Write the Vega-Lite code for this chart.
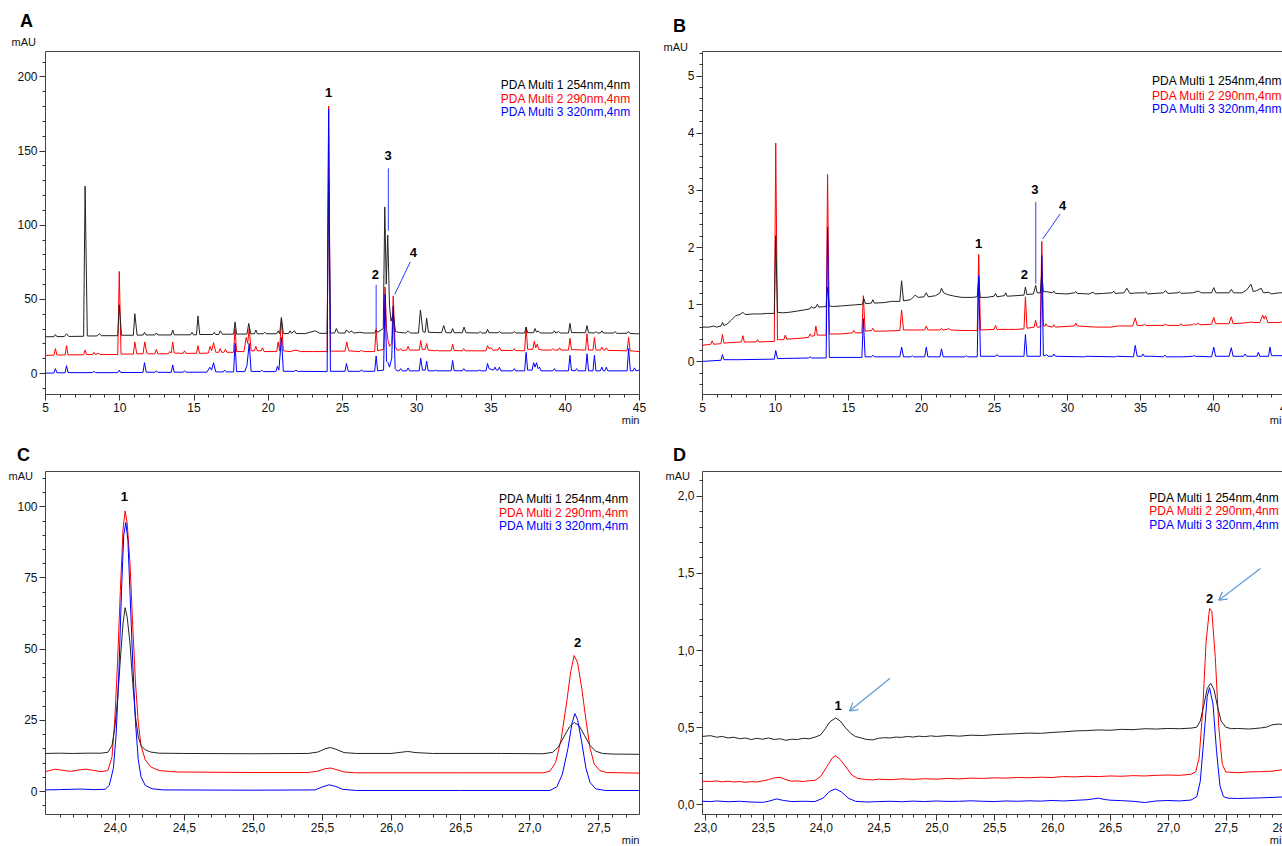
{
"$schema": "https://vega.github.io/schema/vega-lite/v6.json",
"padding": {"left": 7, "top": 12, "right": 0, "bottom": 0},
"config": {
 "font": "Liberation Sans",
 "view": {"stroke": "#444", "strokeWidth": 1},
 "axis": {"grid": false, "domain": false, "tickColor": "#333", "tickWidth": 1, "labelFontSize": 12, "labelColor": "#111", "labelPadding": 2, "labelOverlap": false, "labelFlush": false, "titleFontSize": 11, "titleFontWeight": "normal", "titleColor": "#111", "tickCount": 200},
 "title": {"fontSize": 18, "fontWeight": "bold", "anchor": "start", "frame": "group", "baseline": "alphabetic", "offset": 5, "color": "#000"}
},
"datasets": {
"A": [
{"s":"k","t":5.0,"v":24.5},{"s":"k","t":5.6,"v":24.5},{"s":"k","t":5.7,"v":26},{"s":"k","t":5.8,"v":24.6},{"s":"k","t":6.3,"v":24.6},{"s":"k","t":6.45,"v":26.5},{"s":"k","t":6.6,"v":24.7},{"s":"k","t":7.6,"v":24.8},{"s":"k","t":7.7,"v":126},{"s":"k","t":7.85,"v":25},{"s":"k","t":8.5,"v":25},{"s":"k","t":8.65,"v":26.5},{"s":"k","t":8.8,"v":25.2},{"s":"k","t":9.9,"v":25.2},{"s":"k","t":10.0,"v":46},{"s":"k","t":10.15,"v":25.5},{"s":"k","t":10.95,"v":25.5},{"s":"k","t":11.05,"v":40},{"s":"k","t":11.2,"v":25.6},{"s":"k","t":11.6,"v":25.6},{"s":"k","t":11.7,"v":27.5},{"s":"k","t":11.8,"v":25.7},{"s":"k","t":12.4,"v":25.7},{"s":"k","t":12.5,"v":27},{"s":"k","t":12.6,"v":25.7},{"s":"k","t":13.5,"v":25.7},{"s":"k","t":13.6,"v":29},{"s":"k","t":13.7,"v":25.8},{"s":"k","t":14.8,"v":25.8},{"s":"k","t":14.9,"v":27.5},{"s":"k","t":15.0,"v":25.8},{"s":"k","t":15.2,"v":25.8},{"s":"k","t":15.3,"v":38.5},{"s":"k","t":15.42,"v":26},{"s":"k","t":16.3,"v":26},{"s":"k","t":16.4,"v":27.5},{"s":"k","t":16.5,"v":26},{"s":"k","t":16.7,"v":26},{"s":"k","t":16.8,"v":28.5},{"s":"k","t":16.95,"v":26.2},{"s":"k","t":17.7,"v":26.2},{"s":"k","t":17.8,"v":34.5},{"s":"k","t":17.9,"v":26.3},{"s":"k","t":18.6,"v":26.3},{"s":"k","t":18.72,"v":33.5},{"s":"k","t":18.85,"v":26.5},{"s":"k","t":19.1,"v":26.5},{"s":"k","t":19.2,"v":29},{"s":"k","t":19.3,"v":26.5},{"s":"k","t":19.7,"v":26.5},{"s":"k","t":19.8,"v":27.5},{"s":"k","t":19.9,"v":26.5},{"s":"k","t":20.6,"v":26.5},{"s":"k","t":20.7,"v":28.5},{"s":"k","t":20.8,"v":26.5},{"s":"k","t":20.92,"v":37.5},{"s":"k","t":21.05,"v":26.6},{"s":"k","t":21.4,"v":26.6},{"s":"k","t":21.5,"v":28.5},{"s":"k","t":21.6,"v":26.8},{"s":"k","t":21.8,"v":28.5},{"s":"k","t":21.9,"v":26.7},{"s":"k","t":22.5,"v":26.6},{"s":"k","t":23.2,"v":28.5},{"s":"k","t":23.5,"v":26.8},{"s":"k","t":24.0,"v":26.8},{"s":"k","t":24.1,"v":130},{"s":"k","t":24.22,"v":27},{"s":"k","t":24.5,"v":27},{"s":"k","t":24.62,"v":30},{"s":"k","t":24.75,"v":27},{"s":"k","t":25.2,"v":27},{"s":"k","t":25.3,"v":29},{"s":"k","t":25.5,"v":27.2},{"s":"k","t":25.6,"v":28.5},{"s":"k","t":25.8,"v":27},{"s":"k","t":26.2,"v":27.5},{"s":"k","t":26.5,"v":27},{"s":"k","t":27.2,"v":27},{"s":"k","t":27.3,"v":29},{"s":"k","t":27.4,"v":27.5},{"s":"k","t":27.78,"v":30},{"s":"k","t":27.88,"v":112},{"s":"k","t":27.98,"v":60},{"s":"k","t":28.08,"v":93},{"s":"k","t":28.2,"v":45},{"s":"k","t":28.3,"v":35},{"s":"k","t":28.45,"v":40},{"s":"k","t":28.6,"v":28},{"s":"k","t":28.8,"v":27.5},{"s":"k","t":29.3,"v":27},{"s":"k","t":29.45,"v":28.5},{"s":"k","t":29.6,"v":27},{"s":"k","t":30.15,"v":27},{"s":"k","t":30.28,"v":42.5},{"s":"k","t":30.45,"v":28},{"s":"k","t":30.6,"v":27.5},{"s":"k","t":30.7,"v":37},{"s":"k","t":30.82,"v":27.5},{"s":"k","t":31.7,"v":27.2},{"s":"k","t":31.85,"v":32},{"s":"k","t":32.0,"v":27.2},{"s":"k","t":32.35,"v":27.2},{"s":"k","t":32.45,"v":30},{"s":"k","t":32.55,"v":27.2},{"s":"k","t":33.1,"v":27.2},{"s":"k","t":33.22,"v":31},{"s":"k","t":33.35,"v":27.2},{"s":"k","t":34.2,"v":27},{"s":"k","t":34.3,"v":28},{"s":"k","t":34.4,"v":27},{"s":"k","t":34.7,"v":27},{"s":"k","t":34.8,"v":29.5},{"s":"k","t":34.9,"v":27.2},{"s":"k","t":35.5,"v":27.2},{"s":"k","t":35.6,"v":28},{"s":"k","t":35.7,"v":27},{"s":"k","t":36.5,"v":27},{"s":"k","t":36.6,"v":28},{"s":"k","t":36.7,"v":27},{"s":"k","t":37.3,"v":27},{"s":"k","t":37.4,"v":31},{"s":"k","t":37.5,"v":27.2},{"s":"k","t":37.9,"v":27.2},{"s":"k","t":38.0,"v":30},{"s":"k","t":38.1,"v":27.5},{"s":"k","t":38.2,"v":28.5},{"s":"k","t":38.35,"v":27},{"s":"k","t":39.2,"v":27},{"s":"k","t":39.3,"v":28.5},{"s":"k","t":39.4,"v":27},{"s":"k","t":39.6,"v":28},{"s":"k","t":39.7,"v":27},{"s":"k","t":40.25,"v":27},{"s":"k","t":40.35,"v":33.5},{"s":"k","t":40.45,"v":27.3},{"s":"k","t":41.4,"v":27.2},{"s":"k","t":41.5,"v":32},{"s":"k","t":41.6,"v":27.2},{"s":"k","t":42.0,"v":27},{"s":"k","t":42.1,"v":28},{"s":"k","t":42.2,"v":27},{"s":"k","t":42.4,"v":27},{"s":"k","t":42.5,"v":28.5},{"s":"k","t":42.6,"v":27},{"s":"k","t":43.3,"v":27},{"s":"k","t":43.4,"v":28},{"s":"k","t":43.5,"v":26.8},{"s":"k","t":44.2,"v":26.8},{"s":"k","t":44.3,"v":28},{"s":"k","t":44.4,"v":26.7},{"s":"k","t":44.8,"v":26.5},{"s":"k","t":45.0,"v":26.5},
{"s":"r","t":5.0,"v":12},{"s":"r","t":5.6,"v":12},{"s":"r","t":5.7,"v":16.5},{"s":"r","t":5.8,"v":12.2},{"s":"r","t":6.35,"v":12.2},{"s":"r","t":6.45,"v":18.5},{"s":"r","t":6.55,"v":12.3},{"s":"r","t":7.6,"v":12.3},{"s":"r","t":7.7,"v":15.5},{"s":"r","t":7.8,"v":12.5},{"s":"r","t":8.2,"v":12.5},{"s":"r","t":8.3,"v":14},{"s":"r","t":8.4,"v":12.5},{"s":"r","t":8.6,"v":13.5},{"s":"r","t":8.7,"v":12.5},{"s":"r","t":9.9,"v":12.5},{"s":"r","t":10.0,"v":68.5},{"s":"r","t":10.12,"v":12.8},{"s":"r","t":10.95,"v":12.8},{"s":"r","t":11.05,"v":21},{"s":"r","t":11.18,"v":13},{"s":"r","t":11.6,"v":13},{"s":"r","t":11.72,"v":21},{"s":"r","t":11.85,"v":13.5},{"s":"r","t":11.95,"v":13},{"s":"r","t":12.4,"v":13},{"s":"r","t":12.5,"v":16},{"s":"r","t":12.6,"v":13},{"s":"r","t":13.3,"v":13},{"s":"r","t":13.4,"v":14.5},{"s":"r","t":13.5,"v":13.5},{"s":"r","t":13.6,"v":21},{"s":"r","t":13.7,"v":13.5},{"s":"r","t":14.3,"v":13.3},{"s":"r","t":14.4,"v":15},{"s":"r","t":14.5,"v":13.3},{"s":"r","t":15.2,"v":13.3},{"s":"r","t":15.3,"v":18.5},{"s":"r","t":15.4,"v":13.3},{"s":"r","t":16.0,"v":13.5},{"s":"r","t":16.12,"v":18},{"s":"r","t":16.22,"v":15},{"s":"r","t":16.35,"v":20.5},{"s":"r","t":16.5,"v":14},{"s":"r","t":16.7,"v":14},{"s":"r","t":16.8,"v":16.5},{"s":"r","t":16.9,"v":14},{"s":"r","t":17.05,"v":14},{"s":"r","t":17.15,"v":16},{"s":"r","t":17.25,"v":14},{"s":"r","t":17.7,"v":14},{"s":"r","t":17.8,"v":30},{"s":"r","t":17.9,"v":14.5},{"s":"r","t":18.4,"v":14.5},{"s":"r","t":18.55,"v":24},{"s":"r","t":18.65,"v":20},{"s":"r","t":18.75,"v":30},{"s":"r","t":18.88,"v":15},{"s":"r","t":19.1,"v":15},{"s":"r","t":19.2,"v":18},{"s":"r","t":19.3,"v":15},{"s":"r","t":19.55,"v":15},{"s":"r","t":19.65,"v":17},{"s":"r","t":19.75,"v":14.5},{"s":"r","t":20.6,"v":14.5},{"s":"r","t":20.7,"v":21},{"s":"r","t":20.8,"v":15},{"s":"r","t":20.92,"v":37},{"s":"r","t":21.05,"v":15},{"s":"r","t":21.5,"v":14.5},{"s":"r","t":21.9,"v":15.5},{"s":"r","t":22.2,"v":14.5},{"s":"r","t":23.0,"v":14.5},{"s":"r","t":24.0,"v":14.5},{"s":"r","t":24.1,"v":180},{"s":"r","t":24.22,"v":14.8},{"s":"r","t":25.2,"v":14.8},{"s":"r","t":25.32,"v":21},{"s":"r","t":25.45,"v":15},{"s":"r","t":26.2,"v":14.5},{"s":"r","t":26.3,"v":15.5},{"s":"r","t":26.45,"v":14.5},{"s":"r","t":27.2,"v":14.5},{"s":"r","t":27.3,"v":30},{"s":"r","t":27.4,"v":15},{"s":"r","t":27.8,"v":16},{"s":"r","t":27.9,"v":58},{"s":"r","t":28.0,"v":30},{"s":"r","t":28.1,"v":22},{"s":"r","t":28.2,"v":18},{"s":"r","t":28.35,"v":20},{"s":"r","t":28.45,"v":52},{"s":"r","t":28.58,"v":18},{"s":"r","t":28.7,"v":15.5},{"s":"r","t":28.85,"v":15.5},{"s":"r","t":28.95,"v":16.5},{"s":"r","t":29.05,"v":15.2},{"s":"r","t":29.35,"v":15.5},{"s":"r","t":29.45,"v":18},{"s":"r","t":29.55,"v":15.5},{"s":"r","t":30.2,"v":15.5},{"s":"r","t":30.3,"v":22},{"s":"r","t":30.4,"v":16},{"s":"r","t":30.6,"v":16},{"s":"r","t":30.7,"v":20},{"s":"r","t":30.8,"v":15.5},{"s":"r","t":31.3,"v":15},{"s":"r","t":31.4,"v":15.5},{"s":"r","t":31.5,"v":15},{"s":"r","t":32.35,"v":15},{"s":"r","t":32.45,"v":19.5},{"s":"r","t":32.55,"v":15.2},{"s":"r","t":33.1,"v":15},{"s":"r","t":33.2,"v":16.5},{"s":"r","t":33.3,"v":15},{"s":"r","t":34.7,"v":15},{"s":"r","t":34.8,"v":18.5},{"s":"r","t":34.9,"v":16.5},{"s":"r","t":35.05,"v":17},{"s":"r","t":35.15,"v":15.5},{"s":"r","t":35.5,"v":15.5},{"s":"r","t":35.6,"v":17.5},{"s":"r","t":35.7,"v":15.3},{"s":"r","t":36.5,"v":15.2},{"s":"r","t":36.6,"v":16.5},{"s":"r","t":36.7,"v":15.2},{"s":"r","t":37.3,"v":15},{"s":"r","t":37.4,"v":31},{"s":"r","t":37.5,"v":16},{"s":"r","t":37.85,"v":16},{"s":"r","t":37.95,"v":21.5},{"s":"r","t":38.05,"v":17},{"s":"r","t":38.15,"v":19.5},{"s":"r","t":38.25,"v":16},{"s":"r","t":38.5,"v":15.5},{"s":"r","t":39.1,"v":15.5},{"s":"r","t":39.2,"v":16.5},{"s":"r","t":39.3,"v":15.5},{"s":"r","t":39.55,"v":15.5},{"s":"r","t":39.65,"v":17},{"s":"r","t":39.75,"v":15.5},{"s":"r","t":40.25,"v":15.5},{"s":"r","t":40.35,"v":23.5},{"s":"r","t":40.45,"v":15.8},{"s":"r","t":41.4,"v":15.5},{"s":"r","t":41.5,"v":26.5},{"s":"r","t":41.6,"v":15.5},{"s":"r","t":41.9,"v":15.5},{"s":"r","t":42.0,"v":24},{"s":"r","t":42.1,"v":15.5},{"s":"r","t":42.4,"v":15.5},{"s":"r","t":42.5,"v":17.5},{"s":"r","t":42.6,"v":15.5},{"s":"r","t":42.7,"v":15.5},{"s":"r","t":42.8,"v":17},{"s":"r","t":42.9,"v":15.3},{"s":"r","t":44.2,"v":15},{"s":"r","t":44.3,"v":24},{"s":"r","t":44.4,"v":15},{"s":"r","t":44.7,"v":14.8},{"s":"r","t":45.0,"v":14.5},
{"s":"b","t":5.0,"v":0},{"s":"b","t":5.6,"v":0},{"s":"b","t":5.7,"v":3},{"s":"b","t":5.8,"v":0.2},{"s":"b","t":6.35,"v":0.2},{"s":"b","t":6.45,"v":5},{"s":"b","t":6.55,"v":0.3},{"s":"b","t":8.2,"v":0.3},{"s":"b","t":8.3,"v":1.2},{"s":"b","t":8.4,"v":0.3},{"s":"b","t":9.9,"v":0.3},{"s":"b","t":10.0,"v":2},{"s":"b","t":10.1,"v":0.4},{"s":"b","t":11.6,"v":0.4},{"s":"b","t":11.7,"v":7},{"s":"b","t":11.82,"v":0.6},{"s":"b","t":12.4,"v":0.5},{"s":"b","t":12.5,"v":1.5},{"s":"b","t":12.6,"v":0.5},{"s":"b","t":13.5,"v":0.5},{"s":"b","t":13.6,"v":5.5},{"s":"b","t":13.7,"v":0.6},{"s":"b","t":14.3,"v":0.6},{"s":"b","t":14.4,"v":1.5},{"s":"b","t":14.5,"v":0.6},{"s":"b","t":15.9,"v":0.6},{"s":"b","t":16.1,"v":4},{"s":"b","t":16.22,"v":2},{"s":"b","t":16.35,"v":7},{"s":"b","t":16.5,"v":0.8},{"s":"b","t":17.0,"v":0.8},{"s":"b","t":17.1,"v":2},{"s":"b","t":17.2,"v":0.8},{"s":"b","t":17.7,"v":0.8},{"s":"b","t":17.8,"v":20},{"s":"b","t":17.9,"v":1},{"s":"b","t":18.45,"v":1},{"s":"b","t":18.6,"v":5},{"s":"b","t":18.75,"v":20},{"s":"b","t":18.88,"v":1.2},{"s":"b","t":19.5,"v":1},{"s":"b","t":19.6,"v":2},{"s":"b","t":19.7,"v":1},{"s":"b","t":20.55,"v":1},{"s":"b","t":20.65,"v":4.5},{"s":"b","t":20.75,"v":2},{"s":"b","t":20.92,"v":24},{"s":"b","t":21.05,"v":1.2},{"s":"b","t":21.8,"v":1.2},{"s":"b","t":21.9,"v":2},{"s":"b","t":22.0,"v":1.2},{"s":"b","t":24.0,"v":1},{"s":"b","t":24.1,"v":178},{"s":"b","t":24.22,"v":1.2},{"s":"b","t":25.2,"v":1.2},{"s":"b","t":25.3,"v":6.5},{"s":"b","t":25.42,"v":1.2},{"s":"b","t":26.2,"v":1.2},{"s":"b","t":26.3,"v":2},{"s":"b","t":26.45,"v":1.2},{"s":"b","t":27.2,"v":1.2},{"s":"b","t":27.3,"v":11.5},{"s":"b","t":27.4,"v":1.5},{"s":"b","t":27.8,"v":2},{"s":"b","t":27.9,"v":53},{"s":"b","t":28.0,"v":8},{"s":"b","t":28.1,"v":7},{"s":"b","t":28.2,"v":4},{"s":"b","t":28.35,"v":10},{"s":"b","t":28.45,"v":45},{"s":"b","t":28.58,"v":3},{"s":"b","t":28.7,"v":1.5},{"s":"b","t":28.85,"v":1.5},{"s":"b","t":28.95,"v":3},{"s":"b","t":29.05,"v":1.5},{"s":"b","t":29.35,"v":1.5},{"s":"b","t":29.45,"v":3.5},{"s":"b","t":29.55,"v":1.5},{"s":"b","t":30.2,"v":1.5},{"s":"b","t":30.3,"v":10},{"s":"b","t":30.42,"v":2},{"s":"b","t":30.6,"v":2},{"s":"b","t":30.7,"v":8},{"s":"b","t":30.8,"v":1.5},{"s":"b","t":31.2,"v":1.5},{"s":"b","t":31.3,"v":2},{"s":"b","t":31.4,"v":1.5},{"s":"b","t":32.35,"v":1.5},{"s":"b","t":32.45,"v":8.5},{"s":"b","t":32.55,"v":1.6},{"s":"b","t":33.1,"v":1.5},{"s":"b","t":33.2,"v":3},{"s":"b","t":33.3,"v":1.5},{"s":"b","t":34.15,"v":1.5},{"s":"b","t":34.25,"v":2},{"s":"b","t":34.35,"v":1.5},{"s":"b","t":34.7,"v":1.5},{"s":"b","t":34.8,"v":6.5},{"s":"b","t":34.9,"v":3},{"s":"b","t":35.2,"v":2},{"s":"b","t":35.3,"v":4},{"s":"b","t":35.4,"v":2},{"s":"b","t":35.5,"v":2},{"s":"b","t":35.6,"v":4},{"s":"b","t":35.7,"v":1.5},{"s":"b","t":36.5,"v":1.5},{"s":"b","t":36.6,"v":3},{"s":"b","t":36.7,"v":1.5},{"s":"b","t":37.3,"v":1.5},{"s":"b","t":37.4,"v":14},{"s":"b","t":37.5,"v":2},{"s":"b","t":37.8,"v":2},{"s":"b","t":37.9,"v":7},{"s":"b","t":38.0,"v":4},{"s":"b","t":38.1,"v":7},{"s":"b","t":38.2,"v":3},{"s":"b","t":38.3,"v":4},{"s":"b","t":38.4,"v":1.5},{"s":"b","t":39.2,"v":1.5},{"s":"b","t":39.3,"v":3},{"s":"b","t":39.4,"v":1.5},{"s":"b","t":40.25,"v":1.5},{"s":"b","t":40.35,"v":12},{"s":"b","t":40.45,"v":1.8},{"s":"b","t":40.7,"v":1.5},{"s":"b","t":40.8,"v":3},{"s":"b","t":40.9,"v":1.5},{"s":"b","t":41.4,"v":1.5},{"s":"b","t":41.5,"v":13},{"s":"b","t":41.6,"v":1.5},{"s":"b","t":41.9,"v":1.5},{"s":"b","t":42.0,"v":12},{"s":"b","t":42.1,"v":1.5},{"s":"b","t":42.4,"v":1.5},{"s":"b","t":42.5,"v":4},{"s":"b","t":42.6,"v":1.5},{"s":"b","t":42.7,"v":1.5},{"s":"b","t":42.8,"v":4},{"s":"b","t":42.9,"v":1.5},{"s":"b","t":44.2,"v":1.5},{"s":"b","t":44.3,"v":16.5},{"s":"b","t":44.42,"v":1.5},{"s":"b","t":44.6,"v":1.5},{"s":"b","t":44.7,"v":3.5},{"s":"b","t":44.8,"v":1.5},{"s":"b","t":45.0,"v":2}
],
"B": [
{"s":"k","t":5.0,"v":0.6},{"s":"k","t":5.5,"v":0.6},{"s":"k","t":5.8,"v":0.62},{"s":"k","t":6.0,"v":0.6},{"s":"k","t":6.3,"v":0.62},{"s":"k","t":6.4,"v":0.68},{"s":"k","t":6.5,"v":0.63},{"s":"k","t":6.7,"v":0.65},{"s":"k","t":7.0,"v":0.72},{"s":"k","t":7.3,"v":0.8},{"s":"k","t":7.6,"v":0.82},{"s":"k","t":7.8,"v":0.86},{"s":"k","t":7.95,"v":0.82},{"s":"k","t":8.5,"v":0.83},{"s":"k","t":9.0,"v":0.83},{"s":"k","t":9.5,"v":0.84},{"s":"k","t":9.95,"v":0.84},{"s":"k","t":10.05,"v":2.2},{"s":"k","t":10.17,"v":0.86},{"s":"k","t":10.5,"v":0.85},{"s":"k","t":11.0,"v":0.86},{"s":"k","t":11.5,"v":0.88},{"s":"k","t":12.0,"v":0.9},{"s":"k","t":12.4,"v":0.92},{"s":"k","t":12.5,"v":0.96},{"s":"k","t":12.6,"v":0.93},{"s":"k","t":12.8,"v":0.95},{"s":"k","t":12.9,"v":1.0},{"s":"k","t":13.0,"v":0.95},{"s":"k","t":13.5,"v":0.96},{"s":"k","t":13.6,"v":1.3},{"s":"k","t":13.72,"v":0.97},{"s":"k","t":14.0,"v":0.96},{"s":"k","t":14.5,"v":0.97},{"s":"k","t":15.0,"v":0.98},{"s":"k","t":15.5,"v":0.99},{"s":"k","t":16.0,"v":1.0},{"s":"k","t":16.08,"v":1.1},{"s":"k","t":16.2,"v":1.01},{"s":"k","t":16.6,"v":1.02},{"s":"k","t":16.7,"v":1.08},{"s":"k","t":16.8,"v":1.02},{"s":"k","t":17.5,"v":1.03},{"s":"k","t":18.0,"v":1.05},{"s":"k","t":18.55,"v":1.05},{"s":"k","t":18.67,"v":1.41},{"s":"k","t":18.8,"v":1.06},{"s":"k","t":19.3,"v":1.08},{"s":"k","t":19.6,"v":1.16},{"s":"k","t":19.8,"v":1.12},{"s":"k","t":20.2,"v":1.13},{"s":"k","t":20.36,"v":1.2},{"s":"k","t":20.5,"v":1.13},{"s":"k","t":21.0,"v":1.15},{"s":"k","t":21.3,"v":1.2},{"s":"k","t":21.4,"v":1.28},{"s":"k","t":21.55,"v":1.2},{"s":"k","t":21.8,"v":1.17},{"s":"k","t":22.3,"v":1.14},{"s":"k","t":22.8,"v":1.12},{"s":"k","t":23.5,"v":1.12},{"s":"k","t":23.85,"v":1.13},{"s":"k","t":23.95,"v":1.45},{"s":"k","t":24.05,"v":1.12},{"s":"k","t":24.5,"v":1.12},{"s":"k","t":25.0,"v":1.14},{"s":"k","t":25.1,"v":1.19},{"s":"k","t":25.2,"v":1.13},{"s":"k","t":25.7,"v":1.15},{"s":"k","t":25.8,"v":1.2},{"s":"k","t":25.9,"v":1.14},{"s":"k","t":26.5,"v":1.15},{"s":"k","t":27.05,"v":1.16},{"s":"k","t":27.15,"v":1.3},{"s":"k","t":27.25,"v":1.17},{"s":"k","t":27.7,"v":1.18},{"s":"k","t":27.85,"v":1.33},{"s":"k","t":27.95,"v":1.2},{"s":"k","t":28.17,"v":1.2},{"s":"k","t":28.27,"v":1.55},{"s":"k","t":28.37,"v":1.22},{"s":"k","t":28.6,"v":1.22},{"s":"k","t":29.0,"v":1.2},{"s":"k","t":29.1,"v":1.23},{"s":"k","t":29.2,"v":1.19},{"s":"k","t":30.0,"v":1.18},{"s":"k","t":30.5,"v":1.2},{"s":"k","t":30.6,"v":1.22},{"s":"k","t":30.7,"v":1.19},{"s":"k","t":31.5,"v":1.18},{"s":"k","t":31.8,"v":1.21},{"s":"k","t":31.9,"v":1.18},{"s":"k","t":32.5,"v":1.19},{"s":"k","t":33.1,"v":1.2},{"s":"k","t":33.2,"v":1.23},{"s":"k","t":33.3,"v":1.19},{"s":"k","t":33.9,"v":1.2},{"s":"k","t":34.1,"v":1.28},{"s":"k","t":34.3,"v":1.19},{"s":"k","t":35.0,"v":1.2},{"s":"k","t":35.3,"v":1.2},{"s":"k","t":35.4,"v":1.22},{"s":"k","t":35.5,"v":1.18},{"s":"k","t":36.6,"v":1.2},{"s":"k","t":36.75,"v":1.24},{"s":"k","t":36.9,"v":1.19},{"s":"k","t":37.6,"v":1.2},{"s":"k","t":37.7,"v":1.22},{"s":"k","t":37.8,"v":1.19},{"s":"k","t":38.6,"v":1.2},{"s":"k","t":39.0,"v":1.23},{"s":"k","t":39.2,"v":1.2},{"s":"k","t":39.9,"v":1.2},{"s":"k","t":40.05,"v":1.29},{"s":"k","t":40.2,"v":1.2},{"s":"k","t":41.1,"v":1.2},{"s":"k","t":41.25,"v":1.26},{"s":"k","t":41.4,"v":1.2},{"s":"k","t":42.0,"v":1.2},{"s":"k","t":42.3,"v":1.25},{"s":"k","t":42.6,"v":1.35},{"s":"k","t":42.75,"v":1.22},{"s":"k","t":43.0,"v":1.24},{"s":"k","t":43.3,"v":1.28},{"s":"k","t":43.45,"v":1.2},{"s":"k","t":43.8,"v":1.21},{"s":"k","t":44.0,"v":1.18},{"s":"k","t":44.5,"v":1.2},{"s":"k","t":45.0,"v":1.2},{"s":"k","t":45.7,"v":1.2},
{"s":"r","t":5.0,"v":0.28},{"s":"r","t":5.6,"v":0.3},{"s":"r","t":5.7,"v":0.36},{"s":"r","t":5.8,"v":0.3},{"s":"r","t":6.3,"v":0.31},{"s":"r","t":6.4,"v":0.47},{"s":"r","t":6.5,"v":0.32},{"s":"r","t":7.0,"v":0.33},{"s":"r","t":7.7,"v":0.34},{"s":"r","t":7.8,"v":0.45},{"s":"r","t":7.9,"v":0.34},{"s":"r","t":8.7,"v":0.34},{"s":"r","t":8.8,"v":0.38},{"s":"r","t":8.9,"v":0.34},{"s":"r","t":9.95,"v":0.35},{"s":"r","t":10.05,"v":3.82},{"s":"r","t":10.17,"v":0.38},{"s":"r","t":10.6,"v":0.38},{"s":"r","t":10.7,"v":0.46},{"s":"r","t":10.8,"v":0.39},{"s":"r","t":11.5,"v":0.4},{"s":"r","t":12.3,"v":0.42},{"s":"r","t":12.4,"v":0.48},{"s":"r","t":12.5,"v":0.44},{"s":"r","t":12.7,"v":0.45},{"s":"r","t":12.8,"v":0.62},{"s":"r","t":12.9,"v":0.46},{"s":"r","t":13.5,"v":0.46},{"s":"r","t":13.6,"v":3.27},{"s":"r","t":13.72,"v":0.48},{"s":"r","t":14.5,"v":0.48},{"s":"r","t":15.3,"v":0.5},{"s":"r","t":15.4,"v":0.54},{"s":"r","t":15.5,"v":0.5},{"s":"r","t":15.95,"v":0.5},{"s":"r","t":16.05,"v":1.15},{"s":"r","t":16.17,"v":0.53},{"s":"r","t":16.6,"v":0.54},{"s":"r","t":16.7,"v":0.58},{"s":"r","t":16.8,"v":0.53},{"s":"r","t":17.5,"v":0.53},{"s":"r","t":18.55,"v":0.54},{"s":"r","t":18.67,"v":0.9},{"s":"r","t":18.8,"v":0.55},{"s":"r","t":19.5,"v":0.55},{"s":"r","t":20.25,"v":0.55},{"s":"r","t":20.36,"v":0.62},{"s":"r","t":20.47,"v":0.55},{"s":"r","t":21.3,"v":0.55},{"s":"r","t":21.4,"v":0.58},{"s":"r","t":21.5,"v":0.55},{"s":"r","t":21.8,"v":0.56},{"s":"r","t":21.9,"v":0.58},{"s":"r","t":22.0,"v":0.55},{"s":"r","t":23.0,"v":0.54},{"s":"r","t":23.85,"v":0.54},{"s":"r","t":23.95,"v":1.87},{"s":"r","t":24.07,"v":0.55},{"s":"r","t":25.0,"v":0.56},{"s":"r","t":25.1,"v":0.63},{"s":"r","t":25.2,"v":0.56},{"s":"r","t":26.0,"v":0.56},{"s":"r","t":26.5,"v":0.56},{"s":"r","t":27.05,"v":0.57},{"s":"r","t":27.15,"v":1.13},{"s":"r","t":27.26,"v":0.58},{"s":"r","t":27.75,"v":0.6},{"s":"r","t":27.85,"v":0.72},{"s":"r","t":27.95,"v":0.6},{"s":"r","t":28.17,"v":0.6},{"s":"r","t":28.27,"v":2.1},{"s":"r","t":28.38,"v":0.62},{"s":"r","t":28.5,"v":0.62},{"s":"r","t":28.55,"v":0.66},{"s":"r","t":28.65,"v":0.62},{"s":"r","t":29.0,"v":0.6},{"s":"r","t":29.1,"v":0.64},{"s":"r","t":29.2,"v":0.6},{"s":"r","t":30.5,"v":0.62},{"s":"r","t":30.6,"v":0.67},{"s":"r","t":30.7,"v":0.62},{"s":"r","t":32.0,"v":0.6},{"s":"r","t":33.0,"v":0.6},{"s":"r","t":33.5,"v":0.62},{"s":"r","t":34.5,"v":0.62},{"s":"r","t":34.67,"v":0.76},{"s":"r","t":34.8,"v":0.63},{"s":"r","t":35.2,"v":0.63},{"s":"r","t":35.3,"v":0.65},{"s":"r","t":35.4,"v":0.63},{"s":"r","t":36.6,"v":0.63},{"s":"r","t":36.75,"v":0.65},{"s":"r","t":36.9,"v":0.63},{"s":"r","t":37.7,"v":0.63},{"s":"r","t":37.8,"v":0.66},{"s":"r","t":37.9,"v":0.63},{"s":"r","t":38.6,"v":0.64},{"s":"r","t":38.7,"v":0.66},{"s":"r","t":38.8,"v":0.64},{"s":"r","t":39.0,"v":0.67},{"s":"r","t":39.1,"v":0.64},{"s":"r","t":39.9,"v":0.65},{"s":"r","t":40.05,"v":0.77},{"s":"r","t":40.17,"v":0.66},{"s":"r","t":41.1,"v":0.66},{"s":"r","t":41.25,"v":0.78},{"s":"r","t":41.37,"v":0.66},{"s":"r","t":42.0,"v":0.67},{"s":"r","t":42.4,"v":0.68},{"s":"r","t":42.6,"v":0.69},{"s":"r","t":42.8,"v":0.68},{"s":"r","t":43.2,"v":0.68},{"s":"r","t":43.4,"v":0.81},{"s":"r","t":43.5,"v":0.74},{"s":"r","t":43.6,"v":0.8},{"s":"r","t":43.75,"v":0.68},{"s":"r","t":44.1,"v":0.68},{"s":"r","t":44.5,"v":0.68},{"s":"r","t":45.0,"v":0.7},{"s":"r","t":45.7,"v":0.7},
{"s":"b","t":5.0,"v":0.0},{"s":"b","t":6.3,"v":0.02},{"s":"b","t":6.4,"v":0.12},{"s":"b","t":6.5,"v":0.03},{"s":"b","t":7.5,"v":0.03},{"s":"b","t":9.95,"v":0.04},{"s":"b","t":10.05,"v":0.19},{"s":"b","t":10.17,"v":0.05},{"s":"b","t":12.3,"v":0.06},{"s":"b","t":12.4,"v":0.08},{"s":"b","t":12.5,"v":0.06},{"s":"b","t":13.5,"v":0.06},{"s":"b","t":13.6,"v":2.35},{"s":"b","t":13.72,"v":0.07},{"s":"b","t":15.95,"v":0.07},{"s":"b","t":16.05,"v":0.75},{"s":"b","t":16.17,"v":0.08},{"s":"b","t":16.6,"v":0.08},{"s":"b","t":16.7,"v":0.11},{"s":"b","t":16.8,"v":0.08},{"s":"b","t":18.55,"v":0.08},{"s":"b","t":18.67,"v":0.25},{"s":"b","t":18.8,"v":0.08},{"s":"b","t":19.3,"v":0.08},{"s":"b","t":19.4,"v":0.1},{"s":"b","t":19.5,"v":0.08},{"s":"b","t":20.25,"v":0.08},{"s":"b","t":20.36,"v":0.25},{"s":"b","t":20.47,"v":0.08},{"s":"b","t":21.3,"v":0.08},{"s":"b","t":21.4,"v":0.22},{"s":"b","t":21.52,"v":0.08},{"s":"b","t":22.4,"v":0.08},{"s":"b","t":23.0,"v":0.08},{"s":"b","t":23.1,"v":0.1},{"s":"b","t":23.2,"v":0.08},{"s":"b","t":23.85,"v":0.08},{"s":"b","t":23.95,"v":1.5},{"s":"b","t":24.07,"v":0.09},{"s":"b","t":25.1,"v":0.09},{"s":"b","t":25.2,"v":0.12},{"s":"b","t":25.3,"v":0.09},{"s":"b","t":27.05,"v":0.09},{"s":"b","t":27.15,"v":0.47},{"s":"b","t":27.26,"v":0.09},{"s":"b","t":28.17,"v":0.09},{"s":"b","t":28.27,"v":1.85},{"s":"b","t":28.38,"v":0.1},{"s":"b","t":28.5,"v":0.1},{"s":"b","t":28.6,"v":0.12},{"s":"b","t":28.7,"v":0.09},{"s":"b","t":29.0,"v":0.09},{"s":"b","t":29.1,"v":0.13},{"s":"b","t":29.2,"v":0.09},{"s":"b","t":31.2,"v":0.08},{"s":"b","t":31.3,"v":0.09},{"s":"b","t":33.3,"v":0.08},{"s":"b","t":33.4,"v":0.09},{"s":"b","t":34.55,"v":0.08},{"s":"b","t":34.67,"v":0.28},{"s":"b","t":34.8,"v":0.09},{"s":"b","t":35.1,"v":0.09},{"s":"b","t":35.2,"v":0.13},{"s":"b","t":35.3,"v":0.09},{"s":"b","t":35.8,"v":0.09},{"s":"b","t":36.6,"v":0.08},{"s":"b","t":36.7,"v":0.11},{"s":"b","t":36.8,"v":0.08},{"s":"b","t":38.0,"v":0.08},{"s":"b","t":38.6,"v":0.09},{"s":"b","t":38.7,"v":0.1},{"s":"b","t":38.8,"v":0.09},{"s":"b","t":39.9,"v":0.08},{"s":"b","t":40.05,"v":0.25},{"s":"b","t":40.17,"v":0.09},{"s":"b","t":41.1,"v":0.09},{"s":"b","t":41.25,"v":0.24},{"s":"b","t":41.37,"v":0.09},{"s":"b","t":42.1,"v":0.09},{"s":"b","t":42.2,"v":0.13},{"s":"b","t":42.3,"v":0.09},{"s":"b","t":43.0,"v":0.09},{"s":"b","t":43.1,"v":0.16},{"s":"b","t":43.2,"v":0.09},{"s":"b","t":43.8,"v":0.09},{"s":"b","t":43.9,"v":0.25},{"s":"b","t":44.0,"v":0.1},{"s":"b","t":44.5,"v":0.1},{"s":"b","t":45.0,"v":0.1},{"s":"b","t":45.7,"v":0.1}
],
"C": [
{"s":"k","t":23.495,"v":13.2},{"s":"k","t":23.6,"v":13.3},{"s":"k","t":23.7,"v":13.2},{"s":"k","t":23.8,"v":13.3},{"s":"k","t":23.9,"v":13.3},{"s":"k","t":23.95,"v":13.6},{"s":"k","t":23.98,"v":16},{"s":"k","t":24.0,"v":22},{"s":"k","t":24.02,"v":32},{"s":"k","t":24.04,"v":46},{"s":"k","t":24.06,"v":59},{"s":"k","t":24.075,"v":64.4},{"s":"k","t":24.09,"v":61},{"s":"k","t":24.11,"v":52},{"s":"k","t":24.13,"v":38},{"s":"k","t":24.15,"v":26},{"s":"k","t":24.17,"v":19},{"s":"k","t":24.19,"v":16},{"s":"k","t":24.22,"v":14.5},{"s":"k","t":24.26,"v":13.7},{"s":"k","t":24.32,"v":13.3},{"s":"k","t":24.5,"v":13.2},{"s":"k","t":25.0,"v":13.1},{"s":"k","t":25.4,"v":13.2},{"s":"k","t":25.47,"v":13.7},{"s":"k","t":25.52,"v":14.8},{"s":"k","t":25.56,"v":15.3},{"s":"k","t":25.6,"v":14.7},{"s":"k","t":25.66,"v":13.5},{"s":"k","t":25.75,"v":13.2},{"s":"k","t":26.0,"v":13.2},{"s":"k","t":26.07,"v":13.6},{"s":"k","t":26.12,"v":13.9},{"s":"k","t":26.18,"v":13.5},{"s":"k","t":26.3,"v":13.2},{"s":"k","t":26.8,"v":13.2},{"s":"k","t":27.1,"v":13.1},{"s":"k","t":27.17,"v":13.6},{"s":"k","t":27.21,"v":15.5},{"s":"k","t":27.25,"v":19},{"s":"k","t":27.29,"v":22.5},{"s":"k","t":27.325,"v":24.1},{"s":"k","t":27.36,"v":23},{"s":"k","t":27.4,"v":19.5},{"s":"k","t":27.44,"v":16},{"s":"k","t":27.48,"v":14},{"s":"k","t":27.53,"v":13.2},{"s":"k","t":27.6,"v":13.0},{"s":"k","t":27.794,"v":12.9},
{"s":"r","t":23.495,"v":6.8},{"s":"r","t":23.53,"v":7.2},{"s":"r","t":23.57,"v":7.7},{"s":"r","t":23.62,"v":7.3},{"s":"r","t":23.68,"v":6.9},{"s":"r","t":23.74,"v":7.4},{"s":"r","t":23.79,"v":7.7},{"s":"r","t":23.84,"v":7.3},{"s":"r","t":23.9,"v":6.8},{"s":"r","t":23.95,"v":7.2},{"s":"r","t":23.98,"v":12},{"s":"r","t":24.0,"v":25},{"s":"r","t":24.02,"v":45},{"s":"r","t":24.04,"v":70},{"s":"r","t":24.06,"v":92},{"s":"r","t":24.075,"v":98.4},{"s":"r","t":24.09,"v":94},{"s":"r","t":24.11,"v":80},{"s":"r","t":24.13,"v":58},{"s":"r","t":24.15,"v":38},{"s":"r","t":24.17,"v":24},{"s":"r","t":24.19,"v":16},{"s":"r","t":24.22,"v":11},{"s":"r","t":24.26,"v":8.5},{"s":"r","t":24.32,"v":7.2},{"s":"r","t":24.45,"v":6.7},{"s":"r","t":25.0,"v":6.5},{"s":"r","t":25.4,"v":6.5},{"s":"r","t":25.47,"v":7},{"s":"r","t":25.52,"v":7.8},{"s":"r","t":25.56,"v":8.1},{"s":"r","t":25.6,"v":7.6},{"s":"r","t":25.66,"v":6.7},{"s":"r","t":25.75,"v":6.4},{"s":"r","t":26.5,"v":6.4},{"s":"r","t":27.1,"v":6.4},{"s":"r","t":27.15,"v":7},{"s":"r","t":27.19,"v":10},{"s":"r","t":27.23,"v":18},{"s":"r","t":27.27,"v":31},{"s":"r","t":27.3,"v":42},{"s":"r","t":27.325,"v":47.6},{"s":"r","t":27.35,"v":45},{"s":"r","t":27.38,"v":36},{"s":"r","t":27.41,"v":25},{"s":"r","t":27.44,"v":15},{"s":"r","t":27.47,"v":9.5},{"s":"r","t":27.51,"v":7.2},{"s":"r","t":27.56,"v":6.5},{"s":"r","t":27.794,"v":6.3},
{"s":"b","t":23.495,"v":0.4},{"s":"b","t":23.6,"v":0.5},{"s":"b","t":23.75,"v":0.7},{"s":"b","t":23.85,"v":0.5},{"s":"b","t":23.93,"v":0.6},{"s":"b","t":23.96,"v":2},{"s":"b","t":23.99,"v":8},{"s":"b","t":24.01,"v":20},{"s":"b","t":24.03,"v":42},{"s":"b","t":24.05,"v":72},{"s":"b","t":24.065,"v":90},{"s":"b","t":24.08,"v":94.3},{"s":"b","t":24.095,"v":88},{"s":"b","t":24.11,"v":70},{"s":"b","t":24.13,"v":45},{"s":"b","t":24.15,"v":24},{"s":"b","t":24.17,"v":11},{"s":"b","t":24.19,"v":5},{"s":"b","t":24.22,"v":2},{"s":"b","t":24.27,"v":0.8},{"s":"b","t":24.35,"v":0.4},{"s":"b","t":25.0,"v":0.3},{"s":"b","t":25.45,"v":0.4},{"s":"b","t":25.5,"v":1.4},{"s":"b","t":25.55,"v":2.2},{"s":"b","t":25.6,"v":1.6},{"s":"b","t":25.65,"v":0.6},{"s":"b","t":25.75,"v":0.2},{"s":"b","t":26.5,"v":0.2},{"s":"b","t":27.15,"v":0.2},{"s":"b","t":27.2,"v":1.5},{"s":"b","t":27.24,"v":6},{"s":"b","t":27.28,"v":15},{"s":"b","t":27.31,"v":24},{"s":"b","t":27.33,"v":27.2},{"s":"b","t":27.35,"v":25},{"s":"b","t":27.38,"v":17},{"s":"b","t":27.41,"v":8},{"s":"b","t":27.44,"v":3},{"s":"b","t":27.48,"v":0.8},{"s":"b","t":27.55,"v":0.2},{"s":"b","t":27.794,"v":0.2}
],
"D": [
{"s":"k","t":22.975,"v":0.44},{"s":"k","t":23.05,"v":0.445},{"s":"k","t":23.1,"v":0.435},{"s":"k","t":23.15,"v":0.44},{"s":"k","t":23.2,"v":0.43},{"s":"k","t":23.25,"v":0.435},{"s":"k","t":23.3,"v":0.425},{"s":"k","t":23.35,"v":0.43},{"s":"k","t":23.4,"v":0.42},{"s":"k","t":23.45,"v":0.428},{"s":"k","t":23.5,"v":0.422},{"s":"k","t":23.55,"v":0.43},{"s":"k","t":23.6,"v":0.42},{"s":"k","t":23.65,"v":0.425},{"s":"k","t":23.7,"v":0.415},{"s":"k","t":23.75,"v":0.422},{"s":"k","t":23.8,"v":0.42},{"s":"k","t":23.85,"v":0.428},{"s":"k","t":23.9,"v":0.425},{"s":"k","t":23.95,"v":0.435},{"s":"k","t":24.0,"v":0.45},{"s":"k","t":24.04,"v":0.49},{"s":"k","t":24.08,"v":0.535},{"s":"k","t":24.13,"v":0.56},{"s":"k","t":24.17,"v":0.54},{"s":"k","t":24.21,"v":0.5},{"s":"k","t":24.26,"v":0.46},{"s":"k","t":24.3,"v":0.44},{"s":"k","t":24.35,"v":0.43},{"s":"k","t":24.4,"v":0.42},{"s":"k","t":24.45,"v":0.418},{"s":"k","t":24.5,"v":0.428},{"s":"k","t":24.55,"v":0.432},{"s":"k","t":24.6,"v":0.43},{"s":"k","t":24.65,"v":0.436},{"s":"k","t":24.7,"v":0.434},{"s":"k","t":24.75,"v":0.44},{"s":"k","t":24.8,"v":0.436},{"s":"k","t":24.85,"v":0.442},{"s":"k","t":24.9,"v":0.438},{"s":"k","t":24.95,"v":0.444},{"s":"k","t":25.0,"v":0.44},{"s":"k","t":25.1,"v":0.446},{"s":"k","t":25.2,"v":0.442},{"s":"k","t":25.3,"v":0.448},{"s":"k","t":25.4,"v":0.446},{"s":"k","t":25.5,"v":0.452},{"s":"k","t":25.6,"v":0.455},{"s":"k","t":25.7,"v":0.458},{"s":"k","t":25.8,"v":0.462},{"s":"k","t":25.9,"v":0.46},{"s":"k","t":26.0,"v":0.466},{"s":"k","t":26.1,"v":0.47},{"s":"k","t":26.2,"v":0.476},{"s":"k","t":26.3,"v":0.478},{"s":"k","t":26.4,"v":0.482},{"s":"k","t":26.5,"v":0.48},{"s":"k","t":26.6,"v":0.486},{"s":"k","t":26.7,"v":0.484},{"s":"k","t":26.8,"v":0.49},{"s":"k","t":26.9,"v":0.488},{"s":"k","t":27.0,"v":0.492},{"s":"k","t":27.1,"v":0.49},{"s":"k","t":27.2,"v":0.494},{"s":"k","t":27.25,"v":0.5},{"s":"k","t":27.28,"v":0.54},{"s":"k","t":27.31,"v":0.64},{"s":"k","t":27.34,"v":0.75},{"s":"k","t":27.37,"v":0.785},{"s":"k","t":27.4,"v":0.74},{"s":"k","t":27.43,"v":0.63},{"s":"k","t":27.46,"v":0.54},{"s":"k","t":27.5,"v":0.5},{"s":"k","t":27.55,"v":0.49},{"s":"k","t":27.6,"v":0.492},{"s":"k","t":27.7,"v":0.488},{"s":"k","t":27.8,"v":0.495},{"s":"k","t":27.85,"v":0.5},{"s":"k","t":27.9,"v":0.515},{"s":"k","t":27.95,"v":0.52},{"s":"k","t":28.0,"v":0.518},{"s":"k","t":28.107,"v":0.52},
{"s":"r","t":22.975,"v":0.15},{"s":"r","t":23.05,"v":0.148},{"s":"r","t":23.1,"v":0.152},{"s":"r","t":23.15,"v":0.146},{"s":"r","t":23.2,"v":0.15},{"s":"r","t":23.25,"v":0.145},{"s":"r","t":23.3,"v":0.148},{"s":"r","t":23.35,"v":0.143},{"s":"r","t":23.4,"v":0.147},{"s":"r","t":23.45,"v":0.145},{"s":"r","t":23.5,"v":0.152},{"s":"r","t":23.55,"v":0.16},{"s":"r","t":23.6,"v":0.172},{"s":"r","t":23.65,"v":0.175},{"s":"r","t":23.7,"v":0.16},{"s":"r","t":23.75,"v":0.15},{"s":"r","t":23.8,"v":0.152},{"s":"r","t":23.85,"v":0.148},{"s":"r","t":23.9,"v":0.153},{"s":"r","t":23.95,"v":0.155},{"s":"r","t":24.0,"v":0.18},{"s":"r","t":24.05,"v":0.24},{"s":"r","t":24.1,"v":0.3},{"s":"r","t":24.13,"v":0.315},{"s":"r","t":24.17,"v":0.29},{"s":"r","t":24.22,"v":0.24},{"s":"r","t":24.27,"v":0.19},{"s":"r","t":24.32,"v":0.168},{"s":"r","t":24.38,"v":0.162},{"s":"r","t":24.45,"v":0.158},{"s":"r","t":24.5,"v":0.163},{"s":"r","t":24.6,"v":0.16},{"s":"r","t":24.7,"v":0.165},{"s":"r","t":24.8,"v":0.162},{"s":"r","t":24.9,"v":0.166},{"s":"r","t":25.0,"v":0.163},{"s":"r","t":25.1,"v":0.168},{"s":"r","t":25.2,"v":0.165},{"s":"r","t":25.3,"v":0.17},{"s":"r","t":25.4,"v":0.168},{"s":"r","t":25.5,"v":0.172},{"s":"r","t":25.6,"v":0.17},{"s":"r","t":25.7,"v":0.174},{"s":"r","t":25.8,"v":0.172},{"s":"r","t":25.9,"v":0.176},{"s":"r","t":26.0,"v":0.174},{"s":"r","t":26.1,"v":0.18},{"s":"r","t":26.2,"v":0.178},{"s":"r","t":26.3,"v":0.182},{"s":"r","t":26.4,"v":0.18},{"s":"r","t":26.5,"v":0.184},{"s":"r","t":26.6,"v":0.182},{"s":"r","t":26.7,"v":0.186},{"s":"r","t":26.8,"v":0.184},{"s":"r","t":26.9,"v":0.188},{"s":"r","t":27.0,"v":0.19},{"s":"r","t":27.1,"v":0.188},{"s":"r","t":27.2,"v":0.195},{"s":"r","t":27.24,"v":0.21},{"s":"r","t":27.27,"v":0.3},{"s":"r","t":27.3,"v":0.6},{"s":"r","t":27.33,"v":1.05},{"s":"r","t":27.36,"v":1.27},{"s":"r","t":27.38,"v":1.25},{"s":"r","t":27.41,"v":0.95},{"s":"r","t":27.44,"v":0.5},{"s":"r","t":27.47,"v":0.26},{"s":"r","t":27.5,"v":0.21},{"s":"r","t":27.6,"v":0.205},{"s":"r","t":27.7,"v":0.21},{"s":"r","t":27.8,"v":0.212},{"s":"r","t":27.9,"v":0.215},{"s":"r","t":28.0,"v":0.225},{"s":"r","t":28.107,"v":0.23},
{"s":"b","t":22.975,"v":0.02},{"s":"b","t":23.05,"v":0.018},{"s":"b","t":23.1,"v":0.022},{"s":"b","t":23.2,"v":0.017},{"s":"b","t":23.3,"v":0.02},{"s":"b","t":23.4,"v":0.015},{"s":"b","t":23.5,"v":0.013},{"s":"b","t":23.55,"v":0.02},{"s":"b","t":23.62,"v":0.035},{"s":"b","t":23.68,"v":0.025},{"s":"b","t":23.75,"v":0.018},{"s":"b","t":23.85,"v":0.02},{"s":"b","t":23.95,"v":0.018},{"s":"b","t":24.02,"v":0.04},{"s":"b","t":24.08,"v":0.085},{"s":"b","t":24.13,"v":0.1},{"s":"b","t":24.18,"v":0.08},{"s":"b","t":24.24,"v":0.04},{"s":"b","t":24.3,"v":0.02},{"s":"b","t":24.4,"v":0.015},{"s":"b","t":24.5,"v":0.018},{"s":"b","t":24.6,"v":0.02},{"s":"b","t":24.7,"v":0.017},{"s":"b","t":24.8,"v":0.021},{"s":"b","t":24.9,"v":0.018},{"s":"b","t":25.0,"v":0.022},{"s":"b","t":25.1,"v":0.019},{"s":"b","t":25.2,"v":0.02},{"s":"b","t":25.3,"v":0.023},{"s":"b","t":25.4,"v":0.02},{"s":"b","t":25.5,"v":0.018},{"s":"b","t":25.6,"v":0.022},{"s":"b","t":25.7,"v":0.02},{"s":"b","t":25.8,"v":0.023},{"s":"b","t":25.9,"v":0.021},{"s":"b","t":26.0,"v":0.025},{"s":"b","t":26.1,"v":0.022},{"s":"b","t":26.2,"v":0.026},{"s":"b","t":26.3,"v":0.03},{"s":"b","t":26.4,"v":0.04},{"s":"b","t":26.45,"v":0.032},{"s":"b","t":26.5,"v":0.027},{"s":"b","t":26.6,"v":0.024},{"s":"b","t":26.7,"v":0.02},{"s":"b","t":26.8,"v":0.012},{"s":"b","t":26.9,"v":0.022},{"s":"b","t":27.0,"v":0.025},{"s":"b","t":27.1,"v":0.022},{"s":"b","t":27.2,"v":0.028},{"s":"b","t":27.25,"v":0.05},{"s":"b","t":27.28,"v":0.15},{"s":"b","t":27.31,"v":0.42},{"s":"b","t":27.34,"v":0.7},{"s":"b","t":27.36,"v":0.756},{"s":"b","t":27.39,"v":0.65},{"s":"b","t":27.42,"v":0.35},{"s":"b","t":27.45,"v":0.12},{"s":"b","t":27.48,"v":0.05},{"s":"b","t":27.52,"v":0.04},{"s":"b","t":27.6,"v":0.038},{"s":"b","t":27.7,"v":0.04},{"s":"b","t":27.8,"v":0.042},{"s":"b","t":27.9,"v":0.045},{"s":"b","t":28.0,"v":0.048},{"s":"b","t":28.107,"v":0.05}
],
"lab": [
{"p":"A","n":"1","t":24.1,"v":189},{"p":"A","n":"2","t":27.25,"v":66},{"p":"A","n":"3","t":28.1,"v":146},{"p":"A","n":"4","t":29.8,"v":81},
{"p":"B","n":"1","t":23.95,"v":2.06},{"p":"B","n":"2","t":27.08,"v":1.52},{"p":"B","n":"3","t":27.8,"v":3.0},{"p":"B","n":"4","t":29.7,"v":2.71},
{"p":"C","n":"1","t":24.07,"v":103.3},{"p":"C","n":"2","t":27.35,"v":52.1},
{"p":"D","n":"1","t":24.15,"v":0.64},{"p":"D","n":"2","t":27.36,"v":1.33}
],
"seg": [
{"p":"A","t":27.3,"v":59.5,"t2":27.3,"v2":30},{"p":"A","t":28.12,"v":138,"t2":28.12,"v2":96},{"p":"A","t":29.6,"v":75,"t2":28.55,"v2":53},
{"p":"B","t":27.86,"v":2.79,"t2":27.86,"v2":1.36},{"p":"B","t":29.53,"v":2.58,"t2":28.33,"v2":2.14},
{"p":"D","t":24.6,"v":0.817,"t2":24.25,"v2":0.605},{"p":"D","t":24.25,"v":0.605,"t2":24.327,"v2":0.614},{"p":"D","t":24.25,"v":0.605,"t2":24.278,"v2":0.659},
{"p":"D","t":27.8,"v":1.528,"t2":27.44,"v2":1.323},{"p":"D","t":27.44,"v":1.323,"t2":27.517,"v2":1.33},{"p":"D","t":27.44,"v":1.323,"t2":27.47,"v2":1.377}
],
"leg": [
{"p":"A","s":"k","txt":"PDA Multi 1 254nm,4nm","t":35.69,"v":193.9},{"p":"A","s":"r","txt":"PDA Multi 2 290nm,4nm","t":35.69,"v":184.7},{"p":"A","s":"b","txt":"PDA Multi 3 320nm,4nm","t":35.69,"v":175.7},
{"p":"B","s":"k","txt":"PDA Multi 1 254nm,4nm","t":35.82,"v":4.907},{"p":"B","s":"r","txt":"PDA Multi 2 290nm,4nm","t":35.82,"v":4.65},{"p":"B","s":"b","txt":"PDA Multi 3 320nm,4nm","t":35.82,"v":4.423},
{"p":"C","s":"k","txt":"PDA Multi 1 254nm,4nm","t":26.78,"v":102.45},{"p":"C","s":"r","txt":"PDA Multi 2 290nm,4nm","t":26.78,"v":97.8},{"p":"C","s":"b","txt":"PDA Multi 3 320nm,4nm","t":26.78,"v":93.1},
{"p":"D","s":"k","txt":"PDA Multi 1 254nm,4nm","t":26.84,"v":1.985},{"p":"D","s":"r","txt":"PDA Multi 2 290nm,4nm","t":26.84,"v":1.899},{"p":"D","s":"b","txt":"PDA Multi 3 320nm,4nm","t":26.84,"v":1.813}
]
},
"columns": 2,
"bounds": "flush",
"align": "all",
"spacing": {"row": 77, "column": 63},
"concat": [
{
 "title": {"text": "A", "dx": -25},
 "width": 594, "height": 343,
 "layer": [
  {"data": {"name": "A"}, "transform": [{"filter": "datum.s == 'r'"}],
   "mark": {"type": "line", "color": "#ff0000", "strokeWidth": 1, "clip": true},
   "encoding": {
    "x": {"field": "t", "type": "quantitative", "scale": {"domain": [5, 45], "nice": false, "zero": false},
     "axis": {"title": "min", "titleX": 594, "titleY": 29, "titleAlign": "right", "titleBaseline": "alphabetic", "format": "d", "labelOverlap": false, "tickCount": 200,
      "values": [5,6,7,8,9,10,11,12,13,14,15,16,17,18,19,20,21,22,23,24,25,26,27,28,29,30,31,32,33,34,35,36,37,38,39,40,41,42,43,44,45],
      "labelExpr": "datum.value % 5 == 0 ? datum.label : ''",
      "tickSize": {"condition": {"test": "datum.value % 5 == 0", "value": 6}, "value": 3}}},
    "y": {"field": "v", "type": "quantitative", "scale": {"domain": [-14.1, 217.1], "nice": false, "zero": false},
     "axis": {"title": "mAU", "titleAngle": 0, "titleAlign": "left", "titleBaseline": "alphabetic", "titleX": -34, "titleY": -6, "format": "d", "labelOverlap": false, "tickCount": 200,
      "values": [-10,0,10,20,30,40,50,60,70,80,90,100,110,120,130,140,150,160,170,180,190,200,210],
      "labelExpr": "datum.value % 50 == 0 ? datum.label : ''",
      "tickSize": {"condition": {"test": "datum.value % 50 == 0", "value": 6}, "value": 3}}}
   }},
  {"data": {"name": "A"}, "transform": [{"filter": "datum.s == 'k'"}], "mark": {"type": "line", "color": "#222222", "strokeWidth": 1, "clip": true},
   "encoding": {"x": {"field": "t", "type": "quantitative"}, "y": {"field": "v", "type": "quantitative"}}},
  {"data": {"name": "A"}, "transform": [{"filter": "datum.s == 'b'"}], "mark": {"type": "line", "color": "#0000ff", "strokeWidth": 1, "clip": true},
   "encoding": {"x": {"field": "t", "type": "quantitative"}, "y": {"field": "v", "type": "quantitative"}}},
  {"data": {"name": "seg"}, "transform": [{"filter": "datum.p == 'A'"}], "mark": {"type": "rule", "color": "#2a3cff", "strokeWidth": 1},
   "encoding": {"x": {"field": "t", "type": "quantitative"}, "y": {"field": "v", "type": "quantitative"}, "x2": {"field": "t2"}, "y2": {"field": "v2"}}},
  {"data": {"name": "lab"}, "transform": [{"filter": "datum.p == 'A'"}], "mark": {"type": "text", "fontSize": 13, "fontWeight": "bold", "baseline": "middle", "color": "#000"},
   "encoding": {"x": {"field": "t", "type": "quantitative"}, "y": {"field": "v", "type": "quantitative"}, "text": {"field": "n"}}},
  {"data": {"name": "leg"}, "transform": [{"filter": "datum.p == 'A'"}], "mark": {"type": "text", "fontSize": 12, "align": "left", "baseline": "middle"},
   "encoding": {"x": {"field": "t", "type": "quantitative"}, "y": {"field": "v", "type": "quantitative"}, "text": {"field": "txt"},
    "color": {"field": "s", "type": "nominal", "scale": {"domain": ["k", "r", "b"], "range": ["#000000", "#ff0000", "#0000ff"]}, "legend": null}}}
 ]
},
{
 "title": {"text": "B", "dx": -29},
 "width": 594, "height": 343,
 "layer": [
  {"data": {"name": "B"}, "transform": [{"filter": "datum.s == 'r'"}],
   "mark": {"type": "line", "color": "#ff0000", "strokeWidth": 1, "clip": true},
   "encoding": {
    "x": {"field": "t", "type": "quantitative", "scale": {"domain": [5, 45.68], "nice": false, "zero": false},
     "axis": {"title": "min", "titleX": 585, "titleY": 29, "titleAlign": "right", "titleBaseline": "alphabetic", "format": "d", "labelOverlap": false, "tickCount": 200,
      "values": [5,6,7,8,9,10,11,12,13,14,15,16,17,18,19,20,21,22,23,24,25,26,27,28,29,30,31,32,33,34,35,36,37,38,39,40,41,42,43,44,45],
      "labelExpr": "datum.value % 5 == 0 ? datum.label : ''",
      "tickSize": {"condition": {"test": "datum.value % 5 == 0", "value": 6}, "value": 3}}},
    "y": {"field": "v", "type": "quantitative", "scale": {"domain": [-0.57, 5.43], "nice": false, "zero": false},
     "axis": {"title": "mAU", "titleAngle": 0, "titleAlign": "left", "titleBaseline": "alphabetic", "titleX": -39, "titleY": -1, "labelOverlap": false, "tickCount": 200,
      "values": [-0.4,-0.2,0,0.2,0.4,0.6,0.8,1,1.2,1.4,1.6,1.8,2,2.2,2.4,2.6,2.8,3,3.2,3.4,3.6,3.8,4,4.2,4.4,4.6,4.8,5,5.2,5.4],
      "labelExpr": "abs(datum.value - round(datum.value)) < 0.001 ? format(datum.value, 'd') : ''",
      "tickSize": {"condition": {"test": "abs(datum.value - round(datum.value)) < 0.001", "value": 6}, "value": 3}}}
   }},
  {"data": {"name": "B"}, "transform": [{"filter": "datum.s == 'k'"}], "mark": {"type": "line", "color": "#222222", "strokeWidth": 1, "clip": true},
   "encoding": {"x": {"field": "t", "type": "quantitative"}, "y": {"field": "v", "type": "quantitative"}}},
  {"data": {"name": "B"}, "transform": [{"filter": "datum.s == 'b'"}], "mark": {"type": "line", "color": "#0000ff", "strokeWidth": 1, "clip": true},
   "encoding": {"x": {"field": "t", "type": "quantitative"}, "y": {"field": "v", "type": "quantitative"}}},
  {"data": {"name": "seg"}, "transform": [{"filter": "datum.p == 'B'"}], "mark": {"type": "rule", "color": "#2a3cff", "strokeWidth": 1},
   "encoding": {"x": {"field": "t", "type": "quantitative"}, "y": {"field": "v", "type": "quantitative"}, "x2": {"field": "t2"}, "y2": {"field": "v2"}}},
  {"data": {"name": "lab"}, "transform": [{"filter": "datum.p == 'B'"}], "mark": {"type": "text", "fontSize": 13, "fontWeight": "bold", "baseline": "middle", "color": "#000"},
   "encoding": {"x": {"field": "t", "type": "quantitative"}, "y": {"field": "v", "type": "quantitative"}, "text": {"field": "n"}}},
  {"data": {"name": "leg"}, "transform": [{"filter": "datum.p == 'B'"}], "mark": {"type": "text", "fontSize": 12, "align": "left", "baseline": "middle"},
   "encoding": {"x": {"field": "t", "type": "quantitative"}, "y": {"field": "v", "type": "quantitative"}, "text": {"field": "txt"},
    "color": {"field": "s", "type": "nominal", "scale": {"domain": ["k", "r", "b"], "range": ["#000000", "#ff0000", "#0000ff"]}, "legend": null}}}
 ]
},
{
 "title": {"text": "C", "dx": -28},
 "width": 594, "height": 343,
 "layer": [
  {"data": {"name": "C"}, "transform": [{"filter": "datum.s == 'r'"}],
   "mark": {"type": "line", "color": "#ff0000", "strokeWidth": 1, "clip": true},
   "encoding": {
    "x": {"field": "t", "type": "quantitative", "scale": {"domain": [23.495, 27.794], "nice": false, "zero": false},
     "axis": {"title": "min", "titleX": 594, "titleY": 29, "titleAlign": "right", "titleBaseline": "alphabetic", "labelOverlap": false, "tickCount": 200,
      "values": [23.6,23.7,23.8,23.9,24.0,24.1,24.2,24.3,24.4,24.5,24.6,24.7,24.8,24.9,25.0,25.1,25.2,25.3,25.4,25.5,25.6,25.7,25.8,25.9,26.0,26.1,26.2,26.3,26.4,26.5,26.6,26.7,26.8,26.9,27.0,27.1,27.2,27.3,27.4,27.5,27.6,27.7],
      "labelExpr": "round(datum.value*10) % 5 == 0 ? replace(format(datum.value, '.1f'), '.', ',') : ''",
      "tickSize": {"condition": {"test": "round(datum.value*10) % 5 == 0", "value": 6}, "value": 3}}},
    "y": {"field": "v", "type": "quantitative", "scale": {"domain": [-8.06, 112.4], "nice": false, "zero": false},
     "axis": {"title": "mAU", "titleAngle": 0, "titleAlign": "left", "titleBaseline": "alphabetic", "titleX": -37, "titleY": 8, "format": "d", "labelOverlap": false, "tickCount": 200,
      "values": [-5,0,5,10,15,20,25,30,35,40,45,50,55,60,65,70,75,80,85,90,95,100,105,110],
      "labelExpr": "datum.value % 25 == 0 ? datum.label : ''",
      "tickSize": {"condition": {"test": "datum.value % 25 == 0", "value": 6}, "value": 3}}}
   }},
  {"data": {"name": "C"}, "transform": [{"filter": "datum.s == 'k'"}], "mark": {"type": "line", "color": "#222222", "strokeWidth": 1, "clip": true},
   "encoding": {"x": {"field": "t", "type": "quantitative"}, "y": {"field": "v", "type": "quantitative"}}},
  {"data": {"name": "C"}, "transform": [{"filter": "datum.s == 'b'"}], "mark": {"type": "line", "color": "#0000ff", "strokeWidth": 1, "clip": true},
   "encoding": {"x": {"field": "t", "type": "quantitative"}, "y": {"field": "v", "type": "quantitative"}}},
  {"data": {"name": "lab"}, "transform": [{"filter": "datum.p == 'C'"}], "mark": {"type": "text", "fontSize": 13, "fontWeight": "bold", "baseline": "middle", "color": "#000"},
   "encoding": {"x": {"field": "t", "type": "quantitative"}, "y": {"field": "v", "type": "quantitative"}, "text": {"field": "n"}}},
  {"data": {"name": "leg"}, "transform": [{"filter": "datum.p == 'C'"}], "mark": {"type": "text", "fontSize": 12, "align": "left", "baseline": "middle"},
   "encoding": {"x": {"field": "t", "type": "quantitative"}, "y": {"field": "v", "type": "quantitative"}, "text": {"field": "txt"},
    "color": {"field": "s", "type": "nominal", "scale": {"domain": ["k", "r", "b"], "range": ["#000000", "#ff0000", "#0000ff"]}, "legend": null}}}
 ]
},
{
 "title": {"text": "D", "dx": -29},
 "width": 594, "height": 343,
 "layer": [
  {"data": {"name": "D"}, "transform": [{"filter": "datum.s == 'r'"}],
   "mark": {"type": "line", "color": "#ff0000", "strokeWidth": 1, "clip": true},
   "encoding": {
    "x": {"field": "t", "type": "quantitative", "scale": {"domain": [22.975, 28.107], "nice": false, "zero": false},
     "axis": {"title": "min", "titleX": 585, "titleY": 29, "titleAlign": "right", "titleBaseline": "alphabetic", "labelOverlap": false, "tickCount": 200,
      "values": [23.0,23.1,23.2,23.3,23.4,23.5,23.6,23.7,23.8,23.9,24.0,24.1,24.2,24.3,24.4,24.5,24.6,24.7,24.8,24.9,25.0,25.1,25.2,25.3,25.4,25.5,25.6,25.7,25.8,25.9,26.0,26.1,26.2,26.3,26.4,26.5,26.6,26.7,26.8,26.9,27.0,27.1,27.2,27.3,27.4,27.5,27.6,27.7,27.8,27.9,28.0,28.1],
      "labelExpr": "round(datum.value*10) % 5 == 0 ? replace(format(datum.value, '.1f'), '.', ',') : ''",
      "tickSize": {"condition": {"test": "round(datum.value*10) % 5 == 0", "value": 6}, "value": 3}}},
    "y": {"field": "v", "type": "quantitative", "scale": {"domain": [-0.0625, 2.16], "nice": false, "zero": false},
     "axis": {"title": "mAU", "titleAngle": 0, "titleAlign": "left", "titleBaseline": "alphabetic", "titleX": -37, "titleY": 8, "labelOverlap": false, "tickCount": 200,
      "values": [0,0.1,0.2,0.3,0.4,0.5,0.6,0.7,0.8,0.9,1.0,1.1,1.2,1.3,1.4,1.5,1.6,1.7,1.8,1.9,2.0,2.1],
      "labelExpr": "round(datum.value*10) % 5 == 0 ? replace(format(datum.value, '.1f'), '.', ',') : ''",
      "tickSize": {"condition": {"test": "round(datum.value*10) % 5 == 0", "value": 6}, "value": 3}}}
   }},
  {"data": {"name": "D"}, "transform": [{"filter": "datum.s == 'k'"}], "mark": {"type": "line", "color": "#222222", "strokeWidth": 1, "clip": true},
   "encoding": {"x": {"field": "t", "type": "quantitative"}, "y": {"field": "v", "type": "quantitative"}}},
  {"data": {"name": "D"}, "transform": [{"filter": "datum.s == 'b'"}], "mark": {"type": "line", "color": "#0000ff", "strokeWidth": 1, "clip": true},
   "encoding": {"x": {"field": "t", "type": "quantitative"}, "y": {"field": "v", "type": "quantitative"}}},
  {"data": {"name": "seg"}, "transform": [{"filter": "datum.p == 'D'"}], "mark": {"type": "rule", "color": "#5b9bd5", "strokeWidth": 1.2},
   "encoding": {"x": {"field": "t", "type": "quantitative"}, "y": {"field": "v", "type": "quantitative"}, "x2": {"field": "t2"}, "y2": {"field": "v2"}}},
  {"data": {"name": "lab"}, "transform": [{"filter": "datum.p == 'D'"}], "mark": {"type": "text", "fontSize": 13, "fontWeight": "bold", "baseline": "middle", "color": "#000"},
   "encoding": {"x": {"field": "t", "type": "quantitative"}, "y": {"field": "v", "type": "quantitative"}, "text": {"field": "n"}}},
  {"data": {"name": "leg"}, "transform": [{"filter": "datum.p == 'D'"}], "mark": {"type": "text", "fontSize": 12, "align": "left", "baseline": "middle"},
   "encoding": {"x": {"field": "t", "type": "quantitative"}, "y": {"field": "v", "type": "quantitative"}, "text": {"field": "txt"},
    "color": {"field": "s", "type": "nominal", "scale": {"domain": ["k", "r", "b"], "range": ["#000000", "#ff0000", "#0000ff"]}, "legend": null}}}
 ]
}
]
}
